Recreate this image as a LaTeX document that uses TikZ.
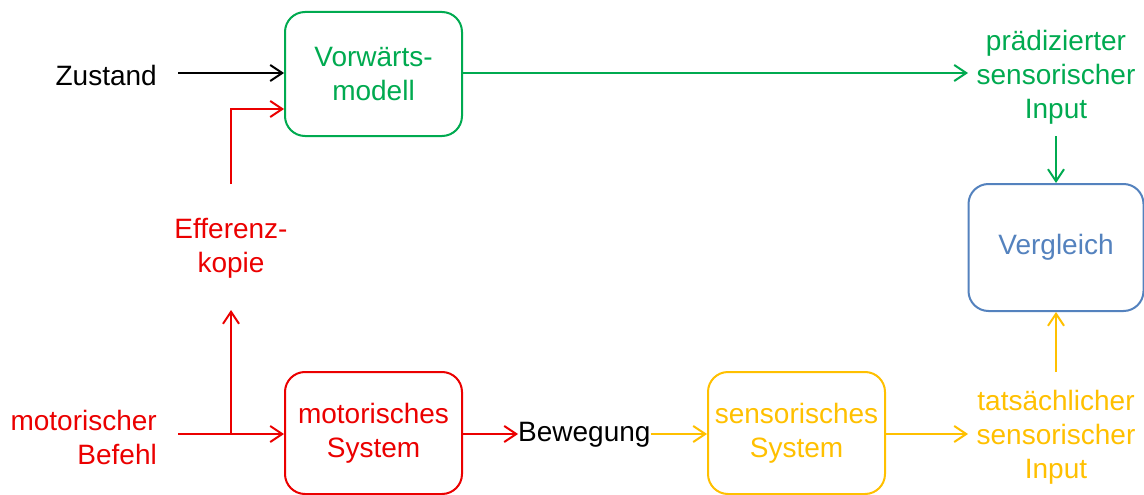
\documentclass[tikz,border=0pt]{standalone}
\usepackage{fontspec}
\setmainfont{Liberation Sans}
\usetikzlibrary{arrows.meta}
\definecolor{cgreen}{RGB}{0,170,80}
\definecolor{cred}{RGB}{235,0,0}
\definecolor{cyellow}{RGB}{255,192,0}
\definecolor{cblue}{RGB}{84,130,190}
\begin{document}
\begin{tikzpicture}[x=1pt,y=-1pt,
  every node/.style={font=\fontsize{28}{34}\selectfont, inner sep=0pt},
  box/.style={draw, rounded corners=20pt, line width=2pt, minimum width=177pt, minimum height=124pt, align=center},
  lbl/.style={align=center},
  conn/.style={line width=2pt, -{Straight Barb[length=12pt,width=16pt,line width=2pt]}},
  seg/.style={line width=2pt}]
\useasboundingbox[fill=white] (0,0) rectangle (1144,495);
% boxes
\node[box, draw=cgreen, text=cgreen] (fm) at (373.5,74) {Vorwärts-\\modell};
\node[box, draw=cred, text=cred, minimum height=122pt] (ms) at (373.5,433) {motorisches\\System};
\node[box, draw=cyellow, text=cyellow, minimum height=122pt] (ss) at (796.5,433) {sensorisches\\System};
\node[box, draw=cblue, text=cblue, minimum width=175pt, minimum height=127pt] (vg) at (1056,247.5) {Vergleich};
% labels
\node[lbl, anchor=east] (zu) at (157,75) {Zustand};
\node[lbl, text=cred] (ek) at (231,248) {Efferenz-\\kopie};
\node[align=right, anchor=east, text=cred] (mb) at (157,437) {motorischer\\Befehl};
\node[lbl, anchor=west] (bw) at (518,435) {Bewegung};
\node[lbl, text=cgreen] (pi) at (1056,77) {prädizierter\\sensorischer\\Input};
\node[lbl, text=cyellow] (ti) at (1056,437) {tatsächlicher\\sensorischer\\Input};
% coordinates
\coordinate (zs) at (178,73);
\coordinate (e1) at (231,184);
\coordinate (br) at (231,434);
\coordinate (e2) at (231,310);
\coordinate (mbs) at (178,434);
\coordinate (pit) at (968,73);
\coordinate (pib) at (1056,136);
\coordinate (tit) at (1056,372);
\coordinate (tiw) at (968,434);
% connectors
\draw[conn, black] (zs) -- (fm.west |- zs);
\draw[conn, cred] (e1) |- ([yshift=-35pt]fm.west);
\draw[seg, cred] (mbs) -- (br);
\draw[conn, cred] (br) -- (ms.west |- br);
\draw[conn, cred] (br) -- (e2);
\draw[conn, cred] (ms.east |- br) -- (bw.west |- br);
\draw[conn, cyellow] (bw.east |- br) -- (ss.west |- br);
\draw[conn, cyellow] (ss.east |- br) -- (tiw);
\draw[conn, cyellow] (tit) -- (vg.south);
\draw[conn, cgreen] (fm.east |- pit) -- (pit);
\draw[conn, cgreen] (pib) -- (vg.north);
\end{tikzpicture}
\end{document}
